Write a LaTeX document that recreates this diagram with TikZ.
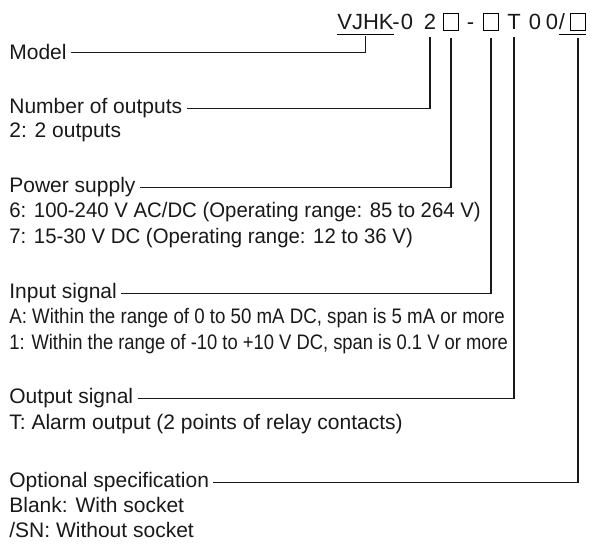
\documentclass[tikz,border=0pt]{standalone}
\usepackage{fontspec}
\setmainfont{Liberation Sans}
\newfontfamily\snugfont[FakeStretch=0.97]{Liberation Sans}
\newfontfamily\tightfont[FakeStretch=0.89]{Liberation Sans}
\newfontfamily\tighterfont[FakeStretch=0.875]{Liberation Sans}
\usetikzlibrary{positioning}

\tikzset{
  code/.style={anchor=base, inner sep=0pt, font=\fontsize{11}{13}\selectfont},
  codebox/.style={draw, line width=0.5pt, minimum width=7.5pt,
                  minimum height=8.5pt, inner sep=0pt},
  title/.style={anchor=base west, inner sep=2pt},
  desc/.style={anchor=base west, inner sep=2pt},
  lead/.style={line width=0.6pt, black!90},
}

\begin{document}
\begin{tikzpicture}[x=0.5pt, y=-0.5pt, font=\fontsize{10.5}{12.5}\selectfont, text=black!90]
    % units are pixels of the 590x545 sheet, y grows downwards
    \useasboundingbox (0,0) rectangle (590,545);

    % === Model code: VJHK-0 2 [] - [] T 0 0/[] ===
    % baseline of the code at y=30
    \node[code, anchor=base west, inner ysep=2pt] (vjhk) at (337,30) {VJHK};
    \draw[line width=0.6pt] (vjhk.south west) -- (vjhk.south east);
    \node[code] (hyph)   at (396,30) {-};
    \node[code] (zeroc)  at (407,30) {0};
    \node[code] (ntwo)   at (430,30) {2};
    \node[codebox] (boxa) at (451,22) {};
    \node[code] (dash)   at (470.5,30) {-};
    \node[codebox] (boxb) at (491,22) {};
    \node[code] (tee)    at (514,30) {T};
    \node[code] (zeroa)  at (535,30) {0};
    \node[code] (zerob)  at (552,30) {0};
    \node[code, inner ysep=2pt] (slash) at (562,30) {/};
    \node[codebox] (boxc) at (578,22) {};
    \draw[line width=0.6pt] (slash.south west) -- (boxc.south east |- slash.south);

    % === Left column: titles and their values ===
    \node[title] (model)  at (5,60)  {Model};

    \node[title] (numout) at (5,114) {Number of outputs};
    \node[desc]  (numa)   at (5,138) {2: 2 outputs};

    \node[title] (power)  at (5,193) {Power supply};
    \node[desc]  (powa)   at (5,218) {\snugfont 6: 100-240 V AC/DC (Operating range: 85 to 264 V)};
    \node[desc]  (powb)   at (5,244) {\snugfont 7: 15-30 V DC (Operating range: 12 to 36 V)};

    \node[title] (input)  at (5,299) {Input signal};
    \node[desc]  (inpa)   at (5,324) {\tightfont A: Within the range of 0 to 50 mA DC, span is 5 mA or more};
    \node[desc]  (inpb)   at (5,350) {\tighterfont 1: Within the range of -10 to +10 V DC, span is 0.1 V or more};

    \node[title] (output) at (5,404) {Output signal};
    \node[desc]  (outa)   at (5,430) {T: Alarm output (2 points of relay contacts)};

    \node[title] (option) at (5,488) {Optional specification};
    \node[desc]  (opta)   at (5,513) {Blank: With socket};
    \node[desc]  (optb)   at (5,538) {/SN: Without socket};

    % === Leaders from titles up to the code ===
    \draw[lead] (model.east)  -| ([yshift=-0.5pt]vjhk.south);
    \draw[lead] (numout.east) -| ([yshift=-3.5pt]ntwo.south);
    \draw[lead] (power.east)  -| ([yshift=-3.5pt]boxa.south);
    \draw[lead] (input.east)  -| ([yshift=-3.5pt]boxb.south);
    \draw[lead] (output.east) -| ([yshift=-3.5pt]tee.south);
    \draw[lead] (option.east) -| ([yshift=-1.5pt]slash.south -| boxc.south);

\end{tikzpicture}
\end{document}
